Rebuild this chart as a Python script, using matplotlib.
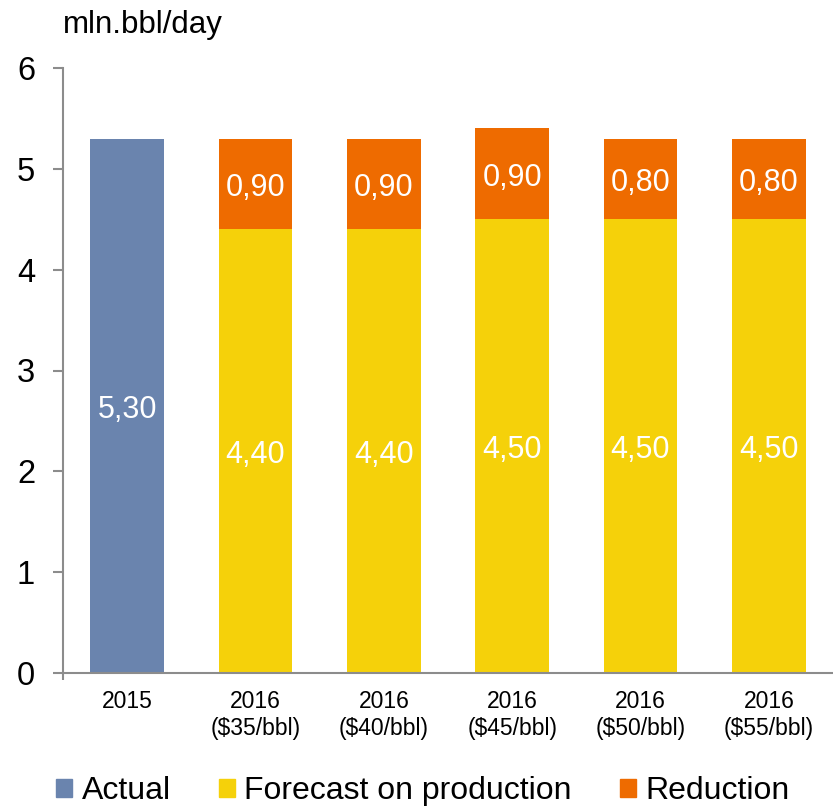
import matplotlib
matplotlib.use("Agg")
import matplotlib.pyplot as plt
from matplotlib.patches import Patch

plt.rcParams['font.family'] = ['Liberation Sans', 'DejaVu Sans']

categories = ["2015", "2016\n($35/bbl)", "2016\n($40/bbl)", "2016\n($45/bbl)",
              "2016\n($50/bbl)", "2016\n($55/bbl)"]
actual = [5.30, 0, 0, 0, 0, 0]
forecast = [0, 4.40, 4.40, 4.50, 4.50, 4.50]
reduction = [0, 0.90, 0.90, 0.90, 0.80, 0.80]

c_actual = "#6A84AE"
c_forecast = "#F5D10A"
c_reduction = "#EE6B00"
axis_grey = "#8C8C8C"

fig = plt.figure(figsize=(8.33, 8.08), dpi=100)
ax = fig.add_axes([0.0756, 1 - 673 / 808, 0.9244, 605 / 808])

x = list(range(len(categories)))
w = 0.576

ax.bar(x, actual, width=w, color=c_actual)
ax.bar(x, forecast, width=w, color=c_forecast)
ax.bar(x, reduction, width=w, bottom=forecast, color=c_reduction)

def fmt(v):
    return f"{v:.2f}".replace(".", ",")

def label(xpos, ypos, v):
    ax.annotate(fmt(v), (xpos, ypos), xytext=(0, -3), textcoords="offset points",
                ha="center", va="center", color="white", fontsize=22)

for i in x:
    if actual[i] > 0:
        label(i, actual[i] / 2, actual[i])
    if forecast[i] > 0:
        label(i, forecast[i] / 2, forecast[i])
    if reduction[i] > 0:
        label(i, forecast[i] + reduction[i] / 2, reduction[i])

ax.set_xlim(-0.5, 5.5)
ax.set_ylim(0, 6)
ax.set_yticks(range(0, 7))
ax.set_xticks(x)
ax.set_xticklabels(categories, fontsize=16.5, linespacing=1.25)
ax.set_xticks([-0.5], minor=True)
ax.tick_params(axis="x", which="major", length=0, pad=12)
ax.tick_params(axis="x", which="minor", length=5, width=1.5, color=axis_grey)
ax.tick_params(axis="y", labelsize=23.5, length=7, width=1.5, color=axis_grey, pad=13)

for s in ("top", "right"):
    ax.spines[s].set_visible(False)
for s in ("left", "bottom"):
    ax.spines[s].set_color(axis_grey)
    ax.spines[s].set_linewidth(1.5)

fig.text(0.076, 1 - 33 / 808, "mln.bbl/day", fontsize=22.5, ha="left", va="baseline")

handles = [Patch(color=c_actual), Patch(color=c_forecast), Patch(color=c_reduction)]
fig.legend(handles, ["Actual", "Forecast on production", "Reduction"],
           loc="center left", bbox_to_anchor=(56 / 833, 1 - 791 / 808), ncol=3,
           frameon=False, borderpad=0, borderaxespad=0,
           fontsize=23, handlelength=0.5, handleheight=0.5, handletextpad=0.3,
           columnspacing=1.5)

fig.savefig("out.png", dpi=100)
